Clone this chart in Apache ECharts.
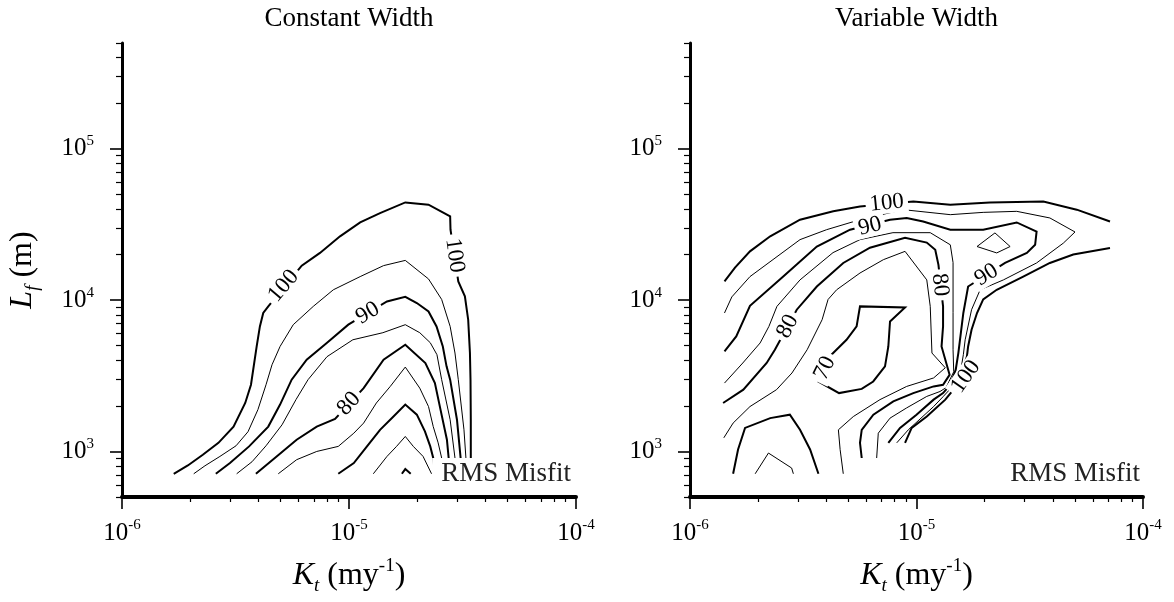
<!DOCTYPE html>
<html>
<head>
<meta charset="utf-8">
<script src="https://cdn.jsdelivr.net/npm/echarts@6/dist/echarts.min.js"></script>
<style>
  html, body { margin: 0; padding: 0; background: #fff; }
  #chart { width: 1174px; height: 602px; }
</style>
</head>
<body>
<div id="chart"></div>
<script>
// RMS misfit contours of Lf against Kt, for two channel-width models.

const panelTitles = ['Constant Width', 'Variable Width'];
const kMajor = [1e-6, 1e-5, 1e-4];
const lfMajor = [1e3, 1e4, 1e5];
const kRange = [1e-6, 1e-4];
const lfRange = [500, 5e5];
const misfitCaption = 'RMS Misfit';

// ---- Constant width: contour polylines as [Kt, Lf] ----
const cw100 = [[1.69e-6,712],[1.95e-6,808],[2.27e-6,951],[2.66e-6,1140],[3.10e-6,1460],[3.49e-6,2090],[3.70e-6,2760],[3.92e-6,4940],[4.05e-6,6700],[4.19e-6,8220],[4.41e-6,9090],[6.19e-6,16900],[7.45e-6,20500],[9.13e-6,26400],[1.12e-5,32600],[1.37e-5,37600],[1.77e-5,44200],[2.24e-5,42700],[2.79e-5,35700],[2.80e-5,29200],[3.03e-5,13300],[3.24e-5,10600],[3.35e-5,7420],[3.41e-5,4470],[3.43e-5,2980],[3.44e-5,1620],[3.44e-5,712]];
const cw95 = [[2.07e-6,712],[2.32e-6,804],[2.70e-6,927],[3.18e-6,1090],[3.59e-6,1350],[3.97e-6,1890],[4.31e-6,2760],[4.58e-6,3740],[4.97e-6,4940],[5.68e-6,6880],[6.96e-6,9090],[8.53e-6,11700],[1.12e-5,14300],[1.42e-5,16900],[1.77e-5,18300],[2.24e-5,13800],[2.56e-5,10100],[2.79e-5,6700],[2.93e-5,4470],[3.03e-5,2980],[3.21e-5,1390],[3.31e-5,712]];
const cw90 = [[2.59e-6,712],[2.99e-6,838],[3.63e-6,1080],[4.41e-6,1460],[4.97e-6,2040],[5.59e-6,2980],[6.51e-6,4040],[7.98e-6,5210],[9.93e-6,6880],[1.47e-5,9800],[1.77e-5,10500],[1.99e-5,9570],[2.24e-5,8420],[2.43e-5,6700],[2.59e-5,4940],[2.69e-5,3650],[2.79e-5,2980],[2.99e-5,1620],[3.15e-5,712]];
const cw85 = [[3.20e-6,712],[3.74e-6,855],[4.31e-6,1090],[5.07e-6,1500],[5.84e-6,2200],[6.60e-6,2980],[8.0e-6,4230],[1.04e-5,5470],[1.41e-5,6090],[1.77e-5,6880],[2.05e-5,6090],[2.28e-5,5230],[2.44e-5,4360],[2.56e-5,2980],[2.79e-5,1620],[2.99e-5,712]];
const cw80 = [[3.89e-6,712],[4.80e-6,927],[5.88e-6,1195],[7.21e-6,1460],[8.68e-6,1640],[1.16e-5,2620],[1.42e-5,4040],[1.77e-5,5070],[2.17e-5,3840],[2.39e-5,2830],[2.53e-5,1890],[2.70e-5,1195],[2.79e-5,712]];
const cw75 = [[4.88e-6,712],[5.88e-6,882],[7.21e-6,1000],[8.97e-6,1080],[1.05e-5,1320],[1.16e-5,1540],[1.32e-5,2090],[1.52e-5,2690],[1.77e-5,3610],[2.05e-5,2620],[2.24e-5,1980],[2.35e-5,1460],[2.47e-5,1140],[2.56e-5,905],[2.62e-5,712]];
const cw70 = [[8.97e-6,712],[1.05e-5,838],[1.20e-5,1080],[1.37e-5,1390],[1.57e-5,1700],[1.77e-5,2040],[1.99e-5,1750],[2.16e-5,1356],[2.28e-5,1080],[2.35e-5,905],[2.39e-5,712]];
const cw65 = [[1.28e-5,712],[1.47e-5,927],[1.62e-5,1080],[1.77e-5,1256],[1.92e-5,1080],[2.12e-5,927],[2.31e-5,712]];
const cw60 = [[1.71e-5,712],[1.77e-5,765],[1.87e-5,712]];
// contour labels: [Kt, Lf, level]
const cwLabels = [[5.15e-6,12400,100],[2.92e-5,19700,100],[1.21e-5,8200,90],[1.0e-5,2070,80]];
const cwLabelAngles = [50, -82, 31, 48];

// ---- Variable width: contour polylines as [Kt, Lf] ----
const vw100a = [[1.42e-6,13300],[1.58e-6,16400],[1.84e-6,21000],[2.26e-6,26400],[3.06e-6,34000],[4.29e-6,38600],[5.63e-6,41600],[9.68e-6,44900],[1.41e-5,42700],[2.11e-5,44200],[3.63e-5,44900],[5.10e-5,39600],[7.15e-5,33100]];
const vw100b = [[7.15e-5,22100],[4.92e-5,20000],[3.88e-5,17600],[2.96e-5,14300],[2.26e-5,11700],[1.97e-5,10100],[1.85e-5,8220],[1.75e-5,6370],[1.69e-5,4940],[1.67e-5,4250],[1.59e-5,3360],[1.48e-5,2640],[1.34e-5,2200],[1.11e-5,1700],[9.52e-6,1430],[8.90e-6,1140]];
const vw95 = [[1.42e-6,8220],[1.53e-6,10500],[1.84e-6,14300],[3.06e-6,25100],[4.01e-6,29200],[5.63e-6,34000],[8.74e-6,39600],[1.41e-5,36700],[1.97e-5,38000],[2.77e-5,38600],[3.88e-5,34900],[5.01e-5,28200],[4.45e-5,23800],[3.39e-5,17600],[2.42e-5,13600],[1.91e-5,11700],[1.75e-5,8640],[1.64e-5,5470],[1.61e-5,4360],[1.57e-5,3470],[1.44e-5,2680],[1.31e-5,2300],[1.19e-5,1980],[9.20e-6,1390],[8.18e-6,1140]];
const vw90 = [[1.42e-6,4580],[1.60e-6,5750],[1.84e-6,9180],[2.58e-6,14300],[3.63e-6,22600],[5.09e-6,29200],[7.64e-6,34000],[9.05e-6,34900],[1.07e-5,33100],[1.41e-5,29200],[1.97e-5,29200],[2.77e-5,32600],[3.39e-5,28400],[3.34e-5,23200],[3.07e-5,20500],[2.46e-5,17600],[1.69e-5,12300],[1.61e-5,8220],[1.53e-5,4470],[1.49e-5,3470],[1.41e-5,2760],[1.31e-5,2430],[1.19e-5,2200],[1.00e-5,1750],[8.46e-6,1430],[7.51e-6,1140]];
const vw85 = [[1.42e-6,2830],[1.71e-6,3840],[2.04e-6,5210],[2.23e-6,6700],[2.42e-6,9090],[3.06e-6,13600],[4.28e-6,20600],[5.63e-6,25100],[7.87e-6,27900],[1.15e-5,27900],[1.41e-5,23200],[1.45e-5,17700],[1.45e-5,8260],[1.45e-5,4700],[1.46e-5,3360],[1.35e-5,2640],[1.27e-5,2490],[1.11e-5,2310],[9.05e-6,1940],[7.64e-6,1660],[6.78e-6,1320],[6.67e-6,905]];
const vw85Loop = [[1.85e-5,22600],[2.22e-5,27800],[2.59e-5,22600],[2.26e-5,20500],[1.85e-5,22600]];
const vw80 = [[1.40e-6,2090],[1.72e-6,2560],[2.18e-6,3840],[2.37e-6,4700],[2.96e-6,8640],[3.63e-6,12300],[4.75e-6,17600],[6.23e-6,22200],[8.90e-6,25800],[1.11e-5,24000],[1.21e-5,21500],[1.25e-5,17100],[1.31e-5,9090],[1.31e-5,6700],[1.29e-5,4940],[1.40e-5,3210],[1.31e-5,2760],[1.19e-5,2690],[9.68e-6,2430],[7.90e-6,2140],[6.45e-6,1750],[5.73e-6,1390],[5.63e-6,1140],[5.73e-6,905]];
const vw75 = [[1.41e-6,1230],[1.55e-6,1540],[1.84e-6,1980],[2.41e-6,2560],[2.82e-6,3300],[3.29e-6,4700],[3.83e-6,7420],[4.07e-6,10100],[4.44e-6,11700],[5.63e-6,15100],[7.14e-6,18500],[8.90e-6,21000],[1.11e-5,13600],[1.15e-5,9090],[1.17e-5,4470],[1.34e-5,3570],[1.19e-5,3060],[9.05e-6,2690],[6.90e-6,2200],[5.26e-6,1700],[4.52e-6,1390],[4.60e-6,1030],[4.75e-6,712]];
const vw70Loop = [[4.21e-6,4360],[4.91e-6,5470],[5.44e-6,6700],[5.63e-6,9090],[8.90e-6,8950],[7.64e-6,7230],[7.51e-6,4940],[7.26e-6,3650],[6.44e-6,2900],[5.73e-6,2590],[4.55e-6,2430],[3.69e-6,2900],[4.21e-6,4360]];
const vw70 = [[1.55e-6,712],[1.63e-6,1030],[1.75e-6,1430],[2.26e-6,1660],[2.76e-6,1750],[3.06e-6,1390],[3.39e-6,1030],[3.69e-6,712]];
const vw65 = [[1.94e-6,712],[2.22e-6,976],[2.81e-6,777],[2.86e-6,712]];
const vwLabels = [[7.39e-6,43800,100],[1.65e-5,3120,100],[6.23e-6,30700,90],[2.04e-5,14700,90],[2.70e-6,6700,80],[1.27e-5,12600,80],[3.94e-6,3550,70]];
const vwLabelAngles = [6, 55, 14, 32, 62, -84, 64];

const constantWidth = [[100, cw100], [95, cw95], [90, cw90], [85, cw85], [80, cw80], [75, cw75], [70, cw70], [65, cw65], [60, cw60]];
const variableWidth = [[100, vw100a], [100, vw100b], [95, vw95], [90, vw90], [85, vw85], [85, vw85Loop], [80, vw80], [75, vw75], [70, vw70Loop], [70, vw70], [65, vw65]];

// ---- drawing ----
const serif = '"Liberation Serif", "Times New Roman", serif';
const lg = Math.log10;
const tickMantissas = [2, 3, 4, 5, 6, 7, 8, 9];

// Tick positions in decades (the visible axes run in log10 units).
const kMajorExp = kMajor.map(v => Math.round(lg(v)));
const lfMajorExp = lfMajor.map(v => Math.round(lg(v)));
const kMinorExp = [];
kMajor.slice(0, -1).forEach(d => tickMantissas.forEach(m => kMinorExp.push(lg(m * d))));
const lfMinorExp = [];
[5, 6, 7, 8, 9].forEach(m => lfMinorExp.push(lg(m * lfMajor[0] / 10)));
lfMajor.slice(0, -1).forEach(d => tickMantissas.forEach(m => lfMinorExp.push(lg(m * d))));
[2, 3, 4, 5].forEach(m => lfMinorExp.push(lg(m * lfMajor[lfMajor.length - 1])));

const powerLabel = v => '{b|10}{s|' + Math.round(v) + '}';
const powerRich = {
  b: { fontFamily: serif, fontSize: 25, lineHeight: 30, color: '#000' },
  s: { fontFamily: serif, fontSize: 15, lineHeight: 15, verticalAlign: 'top', color: '#000' }
};

const grids = [
  { left: 122, top: 43, width: 454, height: 454, outerBoundsMode: 'none' },
  { left: 690, top: 43, width: 453, height: 454, outerBoundsMode: 'none' }
];

const xAxes = [];
const yAxes = [];
grids.forEach((g, i) => {
  xAxes.push({ type: 'log', gridIndex: i, position: 'bottom', min: kRange[0], max: kRange[1], logBase: 10, show: false });
  xAxes.push({
    type: 'value', gridIndex: i, position: 'bottom', min: lg(kRange[0]), max: lg(kRange[1]),
    axisLine: { show: true, onZero: false, lineStyle: { color: '#000', width: 4 } },
    axisTick: { show: true, customValues: kMajorExp, length: 12, lineStyle: { color: '#000', width: 1.6 } },
    axisLabel: { show: true, customValues: kMajorExp, margin: 21, formatter: powerLabel, rich: powerRich },
    splitLine: { show: false },
    name: '{i|K}{sub|t} (my{sup|-1})', nameLocation: 'middle', nameGap: 60,
    nameTextStyle: {
      fontFamily: serif, fontSize: 32, lineHeight: 38, color: '#000',
      rich: {
        i: { fontFamily: serif, fontStyle: 'italic', fontSize: 32, lineHeight: 38, color: '#000' },
        sub: { fontFamily: serif, fontStyle: 'italic', fontSize: 19, lineHeight: 19, verticalAlign: 'bottom', color: '#000' },
        sup: { fontFamily: serif, fontSize: 19, lineHeight: 19, verticalAlign: 'top', color: '#000' }
      }
    }
  });
  xAxes.push({
    type: 'value', gridIndex: i, position: 'bottom', min: lg(kRange[0]), max: lg(kRange[1]),
    axisLine: { show: false, onZero: false },
    axisTick: { show: true, customValues: kMinorExp, length: 5, lineStyle: { color: '#000', width: 1.2 } },
    axisLabel: { show: false }, splitLine: { show: false }
  });

  yAxes.push({ type: 'log', gridIndex: i, position: 'left', min: lfRange[0], max: lfRange[1], logBase: 10, show: false });
  const major = {
    type: 'value', gridIndex: i, position: 'left', min: lg(lfRange[0]), max: lg(lfRange[1]),
    axisLine: { show: true, onZero: false, lineStyle: { color: '#000', width: 3 } },
    axisTick: { show: true, customValues: lfMajorExp, length: 12, lineStyle: { color: '#000', width: 1.6 } },
    axisLabel: { show: true, customValues: lfMajorExp, margin: 28, formatter: powerLabel, rich: powerRich },
    splitLine: { show: false }
  };
  if (i === 0) {
    Object.assign(major, {
      name: '{i|L}{sub|f} (m)', nameLocation: 'middle', nameGap: 80, nameRotate: 90,
      nameTextStyle: {
        fontFamily: serif, fontSize: 32, lineHeight: 38, color: '#000',
        rich: {
          i: { fontFamily: serif, fontStyle: 'italic', fontSize: 32, lineHeight: 38, color: '#000' },
          sub: { fontFamily: serif, fontStyle: 'italic', fontSize: 19, lineHeight: 19, verticalAlign: 'bottom', color: '#000' }
        }
      }
    });
  }
  yAxes.push(major);
  yAxes.push({
    type: 'value', gridIndex: i, position: 'left', min: lg(lfRange[0]), max: lg(lfRange[1]),
    axisLine: { show: false, onZero: false },
    axisTick: { show: true, customValues: lfMinorExp, length: 6, lineStyle: { color: '#000', width: 1.2 } },
    axisLabel: { show: false }, splitLine: { show: false }
  });
});

function contourSeries(level, points, panel) {
  return {
    type: 'line', xAxisIndex: panel * 3, yAxisIndex: panel * 3, data: points,
    symbol: 'none', silent: true, z: 2, animation: false,
    lineStyle: { color: '#000', width: level % 10 === 0 ? 2 : 1, cap: 'butt', join: 'miter' }
  };
}

function labelSeries(labels, angles, panel) {
  return {
    type: 'scatter', xAxisIndex: panel * 3, yAxisIndex: panel * 3, silent: true, z: 5, animation: false,
    symbolSize: 0, itemStyle: { color: '#000' },
    data: labels.map((l, i) => ({ value: l, label: { rotate: angles[i] } })),
    label: {
      show: true, position: 'inside', formatter: p => String(p.value[2]), opacity: 1,
      fontFamily: serif, fontSize: 23, lineHeight: 21, color: '#000',
      textBorderWidth: 0, backgroundColor: '#fff', padding: [0, 4]
    }
  };
}

const series = [];
constantWidth.forEach(([lvl, pts]) => series.push(contourSeries(lvl, pts, 0)));
variableWidth.forEach(([lvl, pts]) => series.push(contourSeries(lvl, pts, 1)));
series.push(labelSeries(cwLabels, cwLabelAngles, 0));
series.push(labelSeries(vwLabels, vwLabelAngles, 1));

const titleCenters = [349, 916.5];
const captionRight = [575, 1144];

const chart = echarts.init(document.getElementById('chart'), null, { renderer: 'canvas', width: 1174, height: 602 });
chart.setOption({
  backgroundColor: '#fff',
  animation: false,
  title: panelTitles.map((t, i) => ({
    text: t, left: titleCenters[i], top: 4, textAlign: 'center', padding: 0,
    textStyle: { fontFamily: serif, fontSize: 27, fontWeight: 'normal', color: '#000', lineHeight: 30 }
  })),
  grid: grids,
  xAxis: xAxes,
  yAxis: yAxes,
  series: series,
  graphic: captionRight.map(x => ({
    type: 'text', x: x, y: 474, z: 100, silent: true,
    style: {
      text: misfitCaption, font: '27px ' + serif, fill: '#222', align: 'right', verticalAlign: 'middle',
      lineHeight: 26, backgroundColor: '#fff', padding: [2, 4, 4, 9]
    }
  }))
});
</script>
</body>
</html>
